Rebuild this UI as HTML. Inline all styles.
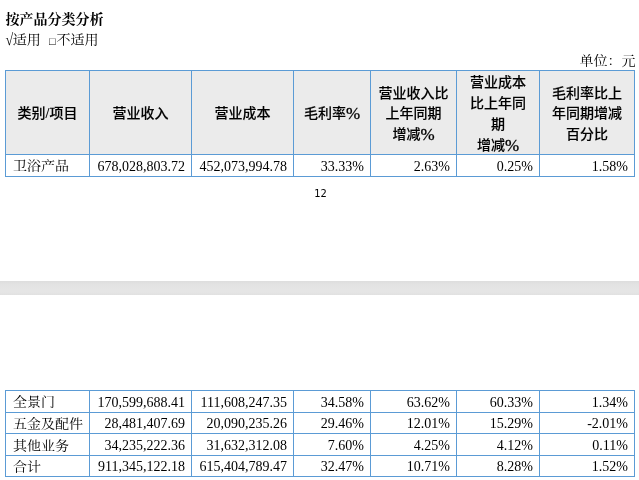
<!DOCTYPE html>
<html lang="zh-CN">
<head>
<meta charset="utf-8">
<title>按产品分类分析</title>
<style>
html,body{margin:0;padding:0;background:#fff;}
body{width:639px;height:480px;position:relative;overflow:hidden;color:#000;
 font-family:"Liberation Serif","Noto Serif CJK SC",serif;font-size:14px;}
.abs{position:absolute;white-space:nowrap;}
.title{left:5.4px;top:10.5px;font-weight:bold;font-size:14px;line-height:18px;transform:scaleY(0.96);transform-origin:0 100%;}
.sub{left:5.1px;top:31px;font-size:14px;line-height:18px;transform:scaleY(0.92);transform-origin:0 85%;}
.sq{left:49px;top:34px;font-size:11px;line-height:14px;}
.sub2{left:56.6px;}
.rt{display:inline-block;transform:translateX(0.5px) scaleY(1.3);transform-origin:0 62%;}
.unit{right:3.5px;top:52.4px;font-size:14px;line-height:18px;transform:scaleY(0.92);transform-origin:0 85%;}
.band{left:0;top:281px;width:639px;height:14px;background:linear-gradient(#dddddd 0,#e3e3e3 4px,#e5e5e5 8px,#e5e5e5 11px,#e1e1e1 100%);}
.pg{left:314.2px;top:187px;font-family:"DejaVu Sans Condensed","DejaVu Sans","Liberation Sans",sans-serif;font-size:11px;line-height:14px;}
table{position:absolute;left:5px;border-collapse:collapse;table-layout:fixed;width:629px;}
td,th{border:1px solid #5b9bd5;padding:0 6px;font-size:14px;box-sizing:border-box;overflow:hidden;white-space:nowrap;}
th{background:#ebebeb;font-family:"Liberation Sans","Noto Sans CJK SC",sans-serif;font-weight:500;font-size:14px;text-align:center;height:84px;padding:0;vertical-align:top;white-space:normal;}
th div{position:relative;height:83px;}
th span{position:absolute;left:0;right:0;top:50%;transform:translateY(-50%);line-height:21px;margin-top:0.5px;}
th span.l3{line-height:20.4px;margin-top:1.5px;}
th span.l4{line-height:21px;margin-top:1.5px;}
th b{font-family:"Liberation Serif",serif;font-weight:normal;font-size:17px;line-height:0;-webkit-text-stroke:0.3px #000;vertical-align:-1px;}
th b.sl{font-size:14px;font-weight:bold;vertical-align:0;-webkit-text-stroke:0;}
th span{-webkit-text-stroke:0.12px #000;}

td{height:21.5px;line-height:16px;text-align:right;vertical-align:top;padding-top:3px;padding-bottom:0;}
td:first-child{text-align:left;padding-left:7px;}
.cj{display:inline-block;transform:translateY(-1px) scaleY(0.9);transform-origin:0 90%;}
#t2 tr.b .cj,#t2 tr.c .cj,#t2 tr.d .cj{transform:scaleY(0.9);}
#t1{top:70px;}
#t1 td{height:22px;padding-top:4px;}
#t2 tr.a td{height:22px;padding-top:4px;}
#t2 tr.b td{height:21px;padding-top:3px;}
#t2 tr.c td{height:22px;padding-top:4px;}
#t2 tr.d td{height:21px;padding-top:3px;}
#t2{top:390px;}
</style>
</head>
<body>
<div class="abs title">按产品分类分析</div>
<div class="abs sub"><span class="rt">√</span>适用 </div><div class="abs sq">□</div><div class="abs sub sub2">不适用</div>
<div class="abs unit">单位：元</div>
<table id="t1">
<colgroup><col style="width:84px"><col style="width:102px"><col style="width:102px"><col style="width:77px"><col style="width:86px"><col style="width:83px"><col style="width:95px"></colgroup>
<tr><th><div><span>类别<b class="sl">/</b>项目</span></div></th><th><div><span>营业收入</span></div></th><th><div><span>营业成本</span></div></th><th><div><span>毛利率<b>%</b></span></div></th><th><div><span class="l3">营业收入比<br>上年同期<br>增减<b>%</b></span></div></th><th><div><span class="l4">营业成本<br>比上年同<br>期<br>增减<b>%</b></span></div></th><th><div><span class="l3">毛利率比上<br>年同期增减<br>百分比</span></div></th></tr>
<tr><td><span class="cj">卫浴产品</span></td><td>678,028,803.72</td><td>452,073,994.78</td><td>33.33%</td><td>2.63%</td><td>0.25%</td><td>1.58%</td></tr>
</table>
<div class="abs pg">12</div>
<div class="abs band"></div>
<table id="t2">
<colgroup><col style="width:84px"><col style="width:102px"><col style="width:102px"><col style="width:77px"><col style="width:86px"><col style="width:83px"><col style="width:95px"></colgroup>
<tr class="a"><td><span class="cj">全景门</span></td><td>170,599,688.41</td><td>111,608,247.35</td><td>34.58%</td><td>63.62%</td><td>60.33%</td><td>1.34%</td></tr>
<tr class="b"><td><span class="cj">五金及配件</span></td><td>28,481,407.69</td><td>20,090,235.26</td><td>29.46%</td><td>12.01%</td><td>15.29%</td><td>-2.01%</td></tr>
<tr class="c"><td><span class="cj">其他业务</span></td><td>34,235,222.36</td><td>31,632,312.08</td><td>7.60%</td><td>4.25%</td><td>4.12%</td><td>0.11%</td></tr>
<tr class="d"><td><span class="cj">合计</span></td><td>911,345,122.18</td><td>615,404,789.47</td><td>32.47%</td><td>10.71%</td><td>8.28%</td><td>1.52%</td></tr>
</table>
</body>
</html>
